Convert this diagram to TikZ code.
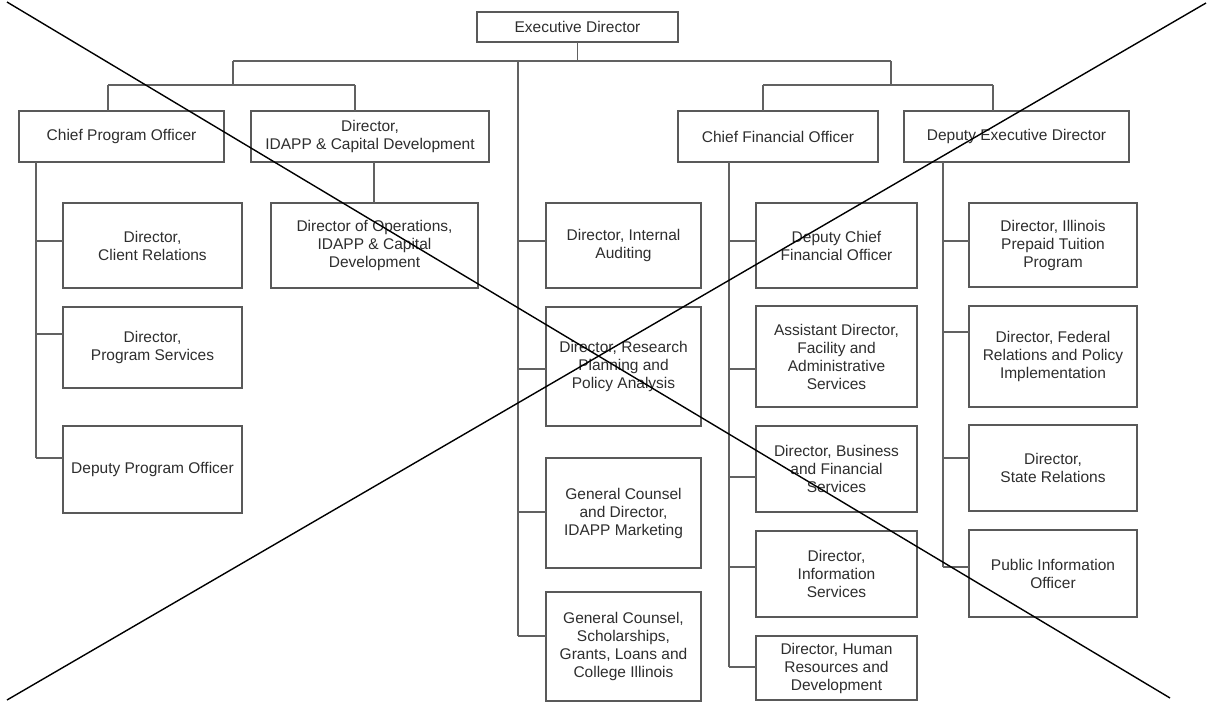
\documentclass[tikz,border=0pt]{standalone}
\usepackage{fontspec}
\setmainfont{Liberation Sans}
\newcommand\orgbox[6]{\node[orgbox, minimum width={(#4-#2)*1pt}, minimum height={(#5-#3)*1pt}] (#1) at ({(#2+#4)/2},{(#3+#5)/2}) {#6};}
\tikzset{
  orgbox/.style={draw=black!65, line width=1.1pt, align=center, inner sep=0pt, outer sep=0pt, text=black!82, font=\fontsize{15.5}{18}\selectfont},
  conn/.style={draw=black!62, line width=1.1pt},
  cross/.style={draw=black, line width=1.4pt}
}
\begin{document}
\begin{tikzpicture}[x=1pt,y=-1pt]
\useasboundingbox[fill=white] (0,0) rectangle (1208,704);
% boxes
\orgbox{ed}{477}{12}{678}{42}{Executive Director}
\orgbox{cpo}{19}{111}{224}{162}{Chief Program Officer}
\orgbox{idapp}{251}{111}{489}{162}{Director,\\IDAPP \& Capital Development}
\orgbox{cfo}{678}{111}{878}{162}{Chief Financial Officer}
\orgbox{ded}{904}{111}{1129}{162}{Deputy Executive Director}
\orgbox{cr}{63}{203}{242}{288}{Director,\\Client Relations}
\orgbox{ps}{63}{307}{242}{388}{Director,\\Program Services}
\orgbox{dpo}{63}{426}{242}{513}{Deputy Program Officer}
\orgbox{ops}{271}{203}{478}{288}{Director of Operations,\\IDAPP \& Capital\\Development}
\orgbox{ia}{546}{203}{701}{288}{Director, Internal\\Auditing}
\orgbox{rp}{546}{307}{701}{426}{Director, Research\\Planning and\\Policy Analysis}
\orgbox{gca}{546}{458}{701}{568}{General Counsel\\and Director,\\IDAPP Marketing}
\orgbox{gcb}{546}{592}{701}{701}{General Counsel,\\Scholarships,\\Grants, Loans and\\College Illinois}
\orgbox{dcfo}{756}{203}{917}{288}{Deputy Chief\\Financial Officer}
\orgbox{ad}{756}{306}{917}{407}{Assistant Director,\\Facility and\\Administrative\\Services}
\orgbox{bfs}{756}{426}{917}{512}{Director, Business\\and Financial\\Services}
\orgbox{is}{756}{531}{917}{617}{Director,\\Information\\Services}
\orgbox{hr}{756}{636}{917}{700}{Director, Human\\Resources and\\Development}
\orgbox{ilp}{969}{203}{1137}{287}{Director, Illinois\\Prepaid Tuition\\Program}
\orgbox{fed}{969}{306}{1137}{407}{Director, Federal\\Relations and Policy\\Implementation}
\orgbox{sr}{969}{425}{1137}{511}{Director,\\State Relations}
\orgbox{pio}{969}{530}{1137}{617}{Public Information\\Officer}
% junctions
\coordinate (lj) at (233,61);
\coordinate (cj) at (518,61);
\coordinate (rj) at (891,61);
\coordinate (lbl) at (108,85);
\coordinate (lbr) at (355,85);
\coordinate (rbl) at (763,85);
\coordinate (rbr) at (993,85);
\coordinate (xops) at (374,0);
\coordinate (bcr) at (36,241);
\coordinate (bps) at (36,334);
\coordinate (bdpo) at (36,458);
\coordinate (bia) at (518,241);
\coordinate (brp) at (518,369);
\coordinate (bgca) at (518,512);
\coordinate (bgcb) at (518,636);
\coordinate (bdcfo) at (729,241);
\coordinate (bad) at (729,369);
\coordinate (bbfs) at (729,477);
\coordinate (bis) at (729,567);
\coordinate (bhr) at (729,667);
\coordinate (bilp) at (943,241);
\coordinate (bfed) at (943,332);
\coordinate (bsr) at (943,458);
\coordinate (bpio) at (943,567);
% top connectors
\draw[conn] (ed.south) -- (ed.south |- cj);
\draw[conn] (lj) -- (rj);
\draw[conn] (lj) -- (lj |- lbl);
\draw[conn] (lbl) -- (lbr);
\draw[conn] (lbl) -- (lbl |- cpo.north);
\draw[conn] (lbr) -- (lbr |- idapp.north);
\draw[conn] (rj) -- (rj |- rbl);
\draw[conn] (rbl) -- (rbr);
\draw[conn] (rbl) -- (rbl |- cfo.north);
\draw[conn] (rbr) -- (rbr |- ded.north);
\draw[conn] (xops |- idapp.south) -- (xops |- ops.north);
% CPO bus
\draw[conn] (bdpo |- cpo.south) -- (bdpo);
\draw[conn] (bcr) -- (bcr -| cr.west);
\draw[conn] (bps) -- (bps -| ps.west);
\draw[conn] (bdpo) -- (bdpo -| dpo.west);
% centre bus
\draw[conn] (cj) -- (bgcb);
\draw[conn] (bia) -- (bia -| ia.west);
\draw[conn] (brp) -- (brp -| rp.west);
\draw[conn] (bgca) -- (bgca -| gca.west);
\draw[conn] (bgcb) -- (bgcb -| gcb.west);
% CFO bus
\draw[conn] (bhr |- cfo.south) -- (bhr);
\draw[conn] (bdcfo) -- (bdcfo -| dcfo.west);
\draw[conn] (bad) -- (bad -| ad.west);
\draw[conn] (bbfs) -- (bbfs -| bfs.west);
\draw[conn] (bis) -- (bis -| is.west);
\draw[conn] (bhr) -- (bhr -| hr.west);
% DED bus
\draw[conn] (bpio |- ded.south) -- (bpio);
\draw[conn] (bilp) -- (bilp -| ilp.west);
\draw[conn] (bfed) -- (bfed -| fed.west);
\draw[conn] (bsr) -- (bsr -| sr.west);
\draw[conn] (bpio) -- (bpio -| pio.west);
% cross
\coordinate (xa) at (7,2);
\coordinate (xb) at (1170,698);
\coordinate (xc) at (7,700);
\coordinate (xd) at (1206,3);
\draw[cross] (xa) -- (xb);
\draw[cross] (xc) -- (xd);
\end{tikzpicture}
\end{document}
